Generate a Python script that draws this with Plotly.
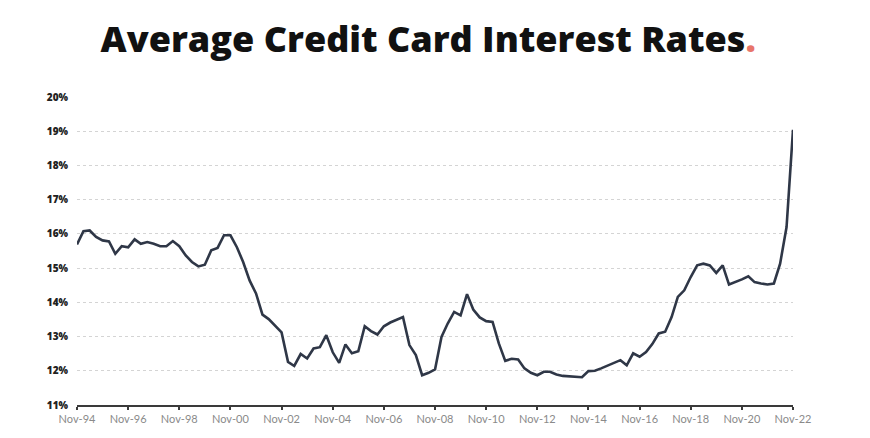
import plotly.graph_objects as go
import pandas as pd

start_date = "1994-11-01"
rates = [
    15.69,
    16.08, 16.10, 15.91, 15.81,
    15.78, 15.42, 15.64, 15.61,
    15.84, 15.71, 15.76, 15.71,
    15.64, 15.64, 15.79, 15.64,
    15.37, 15.18, 15.05, 15.10,
    15.52, 15.59, 15.96, 15.96,
    15.61, 15.18, 14.64, 14.26,
    13.64, 13.51, 13.33, 13.12,
    12.26, 12.14, 12.49, 12.36,
    12.65, 12.69, 13.04, 12.54,
    12.23, 12.77, 12.51, 12.57,
    13.30, 13.16, 13.06, 13.30,
    13.41, 13.48, 13.57, 12.75,
    12.46, 11.87, 11.94, 12.04,
    12.99, 13.38, 13.72, 13.62,
    14.24, 13.79, 13.56, 13.45,
    13.43, 12.80, 12.29, 12.35,
    12.33, 12.07, 11.94, 11.87,
    11.97, 11.97, 11.89, 11.85,
    11.83, 11.83, 11.81, 11.99,
    12.00, 12.07, 12.15, 12.24,
    12.31, 12.16, 12.51, 12.41,
    12.55, 12.78, 13.09, 13.14,
    13.57, 14.16, 14.35, 14.74,
    15.08, 15.13, 15.08, 14.86,
    15.08, 14.52, 14.59, 14.67,
    14.76, 14.59, 14.55, 14.52,
    14.55, 15.13, 16.20, 19.04,
]
dates = pd.date_range(start=start_date, periods=len(rates), freq="3MS")
y_ticks = list(range(11, 21))
y_tick_labels = [f"{v}%" for v in y_ticks]

fig = go.Figure(go.Scatter(
    x=dates, y=rates, mode="lines",
    line=dict(color="#2f3747", width=2.6),
    hoverinfo="skip", showlegend=False,
))

fig.update_layout(
    width=870, height=438,
    margin=dict(l=69, r=85, t=89, b=41, autoexpand=False),
    paper_bgcolor="white", plot_bgcolor="white",
    title=dict(
        text="Average Credit Card Interest Rates<span style='color:#e8756a'>.</span>",
        x=0.483, xanchor="center", xref="container",
        y=0.929, yanchor="middle", yref="container",
        font=dict(family="Open Sans", size=36, color="#111111", weight=800),
    ),
)
fig.update_xaxes(
    type="date",
    range=[dates[0], dates[-1]],
    tick0=start_date, dtick="M24", tickformat="%b-%y",
    showgrid=False, zeroline=False,
    showline=True, linecolor="#3a3a3a", linewidth=1.5,
    ticks="outside", ticklen=3, tickcolor="#3a3a3a", tickwidth=1.5,
    tickfont=dict(family="Lato", size=11, color="#8a8a8a"),
)
fig.update_yaxes(
    range=[11, 20], tickmode="array", tickvals=y_ticks, ticktext=y_tick_labels,
    showgrid=True, gridcolor="#d4d4d4", griddash="dot", gridwidth=1,
    zeroline=False, showline=False, ticks="",
    ticklabelstandoff=8,
    tickfont=dict(family="Open Sans", size=10, color="#222222", weight=800),
)

fig.write_html("out.html")
